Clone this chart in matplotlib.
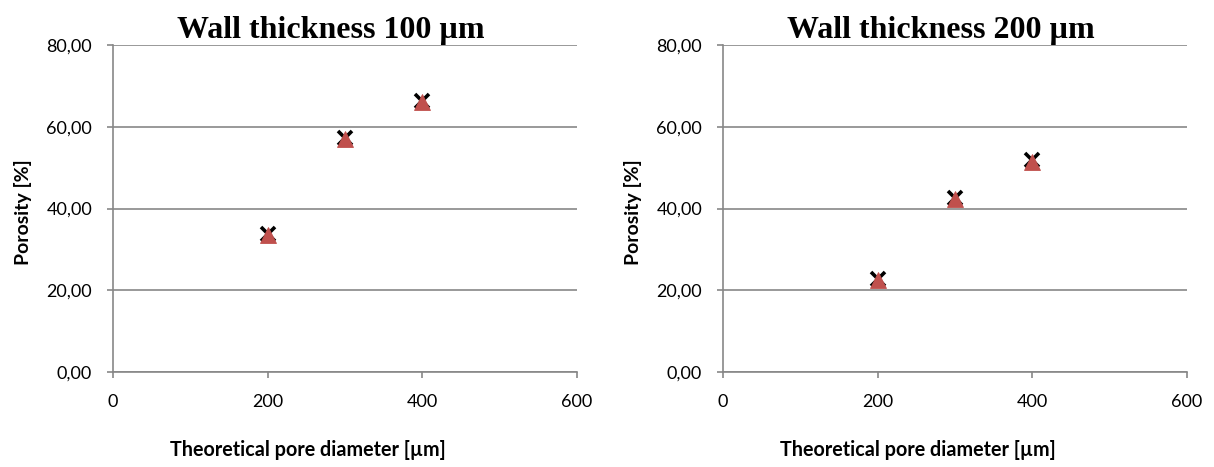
import matplotlib
matplotlib.use('Agg')
import matplotlib.pyplot as plt
from matplotlib.ticker import FuncFormatter

# pore diameter [um]
pore_diameter = [200, 300, 400]

# porosity [%], wall thickness 100 um
wall100_cross = [33.8, 57.3, 66.4]
wall100_tri = [33.5, 57.0, 66.1]

# porosity [%], wall thickness 200 um
wall200_cross = [22.7, 42.6, 51.8]
wall200_tri = [22.4, 42.3, 51.5]

titles = ['Wall thickness 100 \u00b5m', 'Wall thickness 200 \u00b5m']
xticks = [0, 200, 400, 600]
yticks = [0, 20, 40, 60, 80]

grey = '#878787'
red = '#C0504D'

plt.rcParams['font.family'] = ['Lato', 'DejaVu Sans']

fig = plt.figure(figsize=(12.14, 4.67), dpi=100)
ax1 = fig.add_axes([0.0931, 0.2034, 0.3822, 0.7002])
ax2 = fig.add_axes([0.5956, 0.2034, 0.3822, 0.7002])

series = [(wall100_cross, wall100_tri), (wall200_cross, wall200_tri)]

for ax, title, (cross, tri) in zip([ax1, ax2], titles, series):
    ax.plot(pore_diameter, cross, linestyle='none', marker='x', color='black',
            markersize=10, markeredgewidth=2.6, zorder=3)
    ax.plot(pore_diameter, tri, linestyle='none', marker='^', color=red,
            markersize=11.5, markeredgewidth=0.6, markeredgecolor=red, zorder=4)

    ax.set_xlim(0, 600)
    ax.set_ylim(0, 80)
    ax.set_xticks(xticks)
    ax.set_yticks(yticks)
    ax.yaxis.set_major_formatter(FuncFormatter(lambda v, p: f'{v:.2f}'.replace('.', ',')))
    ax.grid(axis='y', color=grey, linewidth=1.2)
    ax.set_axisbelow(True)

    for s in ['top', 'right']:
        ax.spines[s].set_visible(False)
    for s in ['left', 'bottom']:
        ax.spines[s].set_color(grey)
        ax.spines[s].set_linewidth(1.2)
    ax.tick_params(axis='both', direction='out', length=4.5, width=1.2, color=grey,
                   labelsize=13, labelcolor='black')
    ax.tick_params(axis='x', pad=11)
    ax.tick_params(axis='y', pad=10.5)

    ax.set_title(title, fontsize=23, fontweight='bold', family=['Liberation Serif'], pad=5, x=0.47)
    ax.set_xlabel('Theoretical pore diameter [\u00b5m]', fontsize=14.2, fontweight='bold')
    ax.set_ylabel('Porosity [%]', fontsize=14, fontweight='bold')
    ax.xaxis.set_label_coords(0.42, -0.208)
    ax.yaxis.set_label_coords(-0.175, 0.49)

fig.savefig('out.png', dpi=100)
